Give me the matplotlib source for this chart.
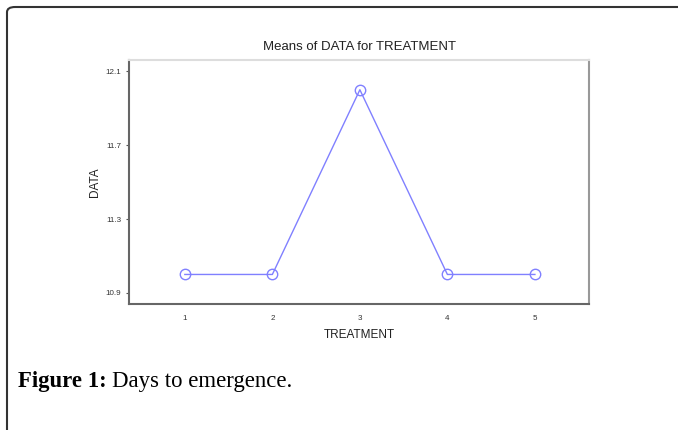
import matplotlib
matplotlib.use("Agg")
import matplotlib.pyplot as plt
from matplotlib.patches import FancyBboxPatch

# means of DATA per treatment
treatments = [1, 2, 3, 4, 5]
means = [11.0, 11.0, 12.0, 11.0, 11.0]
y_ticks = [10.9, 11.3, 11.7, 12.1]

plt.rcParams['font.family'] = ['Liberation Sans', 'DejaVu Sans']

fig = plt.figure(figsize=(6.78, 4.30), dpi=100)

# outer frame of the figure panel, runs off the right and bottom edge
frame = FancyBboxPatch((7 / 678, -0.2), 1.2, 1.2 - 7 / 430,
                       boxstyle="round,pad=0,rounding_size=0.012",
                       transform=fig.transFigure, fill=False,
                       edgecolor="#333333", linewidth=1.5)
fig.patches.append(frame)

ax = fig.add_axes([0.190, 0.293, 0.679, 0.567])
ax.plot(treatments, means, color="#8080ff", linewidth=1.0,
        marker="o", markersize=7.5, markerfacecolor="none",
        markeredgecolor="#8080ff", markeredgewidth=1.0)

ax.set_xlim(0.36, 5.62)
ax.set_ylim(10.84, 12.16)
ax.set_xticks(treatments)
ax.set_yticks(y_ticks)
ax.set_yticklabels([f"{v:.1f}" for v in y_ticks])
ax.tick_params(labelsize=5.8, length=2.5, width=0.8, colors="#555555",
               labelcolor="#333333", pad=3)
ax.tick_params(axis="x", length=0, pad=8)

ax.spines["left"].set_color("#666666")
ax.spines["bottom"].set_color("#666666")
ax.spines["top"].set_color("#dddddd")
ax.spines["right"].set_color("#999999")
for s in ax.spines.values():
    s.set_linewidth(1.5)

ax.set_title("Means of DATA for TREATMENT", fontsize=9.5, color="#222222", pad=7)
ax.set_xlabel("TREATMENT", fontsize=8.5, color="#222222", labelpad=5)
ax.set_ylabel("DATA", fontsize=8.5, color="#222222", labelpad=3)

# caption with bold lead-in
cap_y = 1 - 382 / 430
t1 = fig.text(18 / 678, cap_y, "Figure 1:", fontsize=16.4, fontweight="bold",
              family=["Liberation Serif", "DejaVu Serif"], va="center")
fig.canvas.draw()
bb = t1.get_window_extent(renderer=fig.canvas.get_renderer())
fig.text(bb.x1 / fig.bbox.width + 5 / 678, cap_y, "Days to emergence.",
         fontsize=16.4, family=["Liberation Serif", "DejaVu Serif"], va="center")

fig.savefig("out.png", dpi=100)
